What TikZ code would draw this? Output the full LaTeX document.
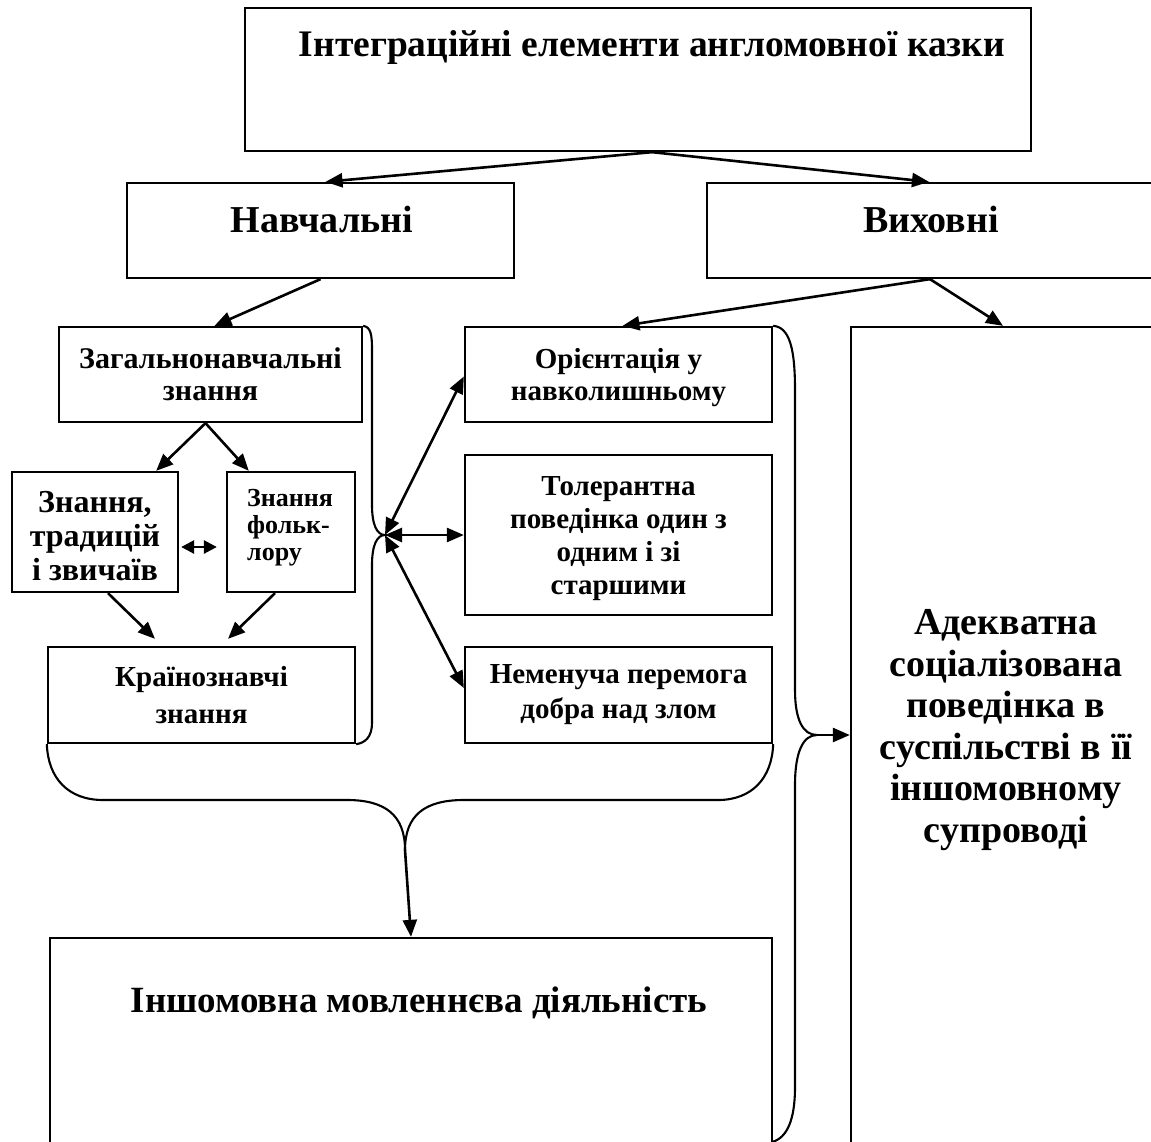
\documentclass[tikz,border=0pt]{standalone}
\usepackage{fontspec}
\setmainfont{Liberation Serif}
\usetikzlibrary{arrows.meta}
\tikzset{
  box/.style={draw, line width=2.3pt, rectangle, inner sep=0pt},
  lbl/.style={font=\bfseries, align=center, inner sep=0pt},
  arr/.style={line width=2.6pt, -{Triangle[length=17pt,width=14pt]}},
  dbl/.style={line width=2.6pt, {Triangle[length=17pt,width=14pt]}-{Triangle[length=17pt,width=14pt]}},
  sdbl/.style={line width=2.6pt, {Triangle[length=13pt,width=13pt]}-{Triangle[length=13pt,width=13pt]}},
  brace/.style={line width=2.1pt}
}
\begin{document}
\begin{tikzpicture}[x=1pt,y=-1pt]
\clip (0,0) rectangle (1151,1142);
\fill[white] (0,0) rectangle (1151,1142);
% boxes
\node[box, minimum width=786pt, minimum height=143pt] (top) at (638,79.5) {};
\node[box, minimum width=387pt, minimum height=95pt] (nav) at (320.5,230.5) {};
\node[box, minimum width=458pt, minimum height=95pt] (vyh) at (936,230.5) {};
\node[box, minimum width=303pt, minimum height=95pt, lbl, font=\fontsize{30}{32}\selectfont\bfseries] (zag) at (210.5,374.5) {Загальнонавчальні\\знання};
\node[box, minimum width=166pt, minimum height=120pt] (trad) at (95,532) {};
\node[box, minimum width=128pt, minimum height=120pt] (folk) at (291,532) {};
\node[box, minimum width=307pt, minimum height=96pt, lbl, font=\fontsize{29}{37}\selectfont\bfseries] (kraina) at (201.5,695) {Країнознавчі\\знання};
\node[box, minimum width=307pt, minimum height=95pt] (or) at (618.5,374.5) {};
\node[box, minimum width=307pt, minimum height=160pt] (tol) at (618.5,535) {};
\node[box, minimum width=307pt, minimum height=96pt, lbl, font=\fontsize{29}{35}\selectfont\bfseries] (nem) at (618.5,695) {Неменуча перемога\\добра над злом};
\node[box, minimum width=722pt, minimum height=232pt] (insh) at (411,1054) {};
\node[box, minimum width=314pt, minimum height=843pt] (big) at (1008,748.5) {};
% texts
\node[lbl, font=\fontsize{37.5}{40}\selectfont\bfseries] (ttop) at (652,47) {Інтеграційні елементи англомовної казки};
\node[lbl, font=\fontsize{38}{40}\selectfont\bfseries] (tnav) at (322,220) {Навчальні};
\node[lbl, font=\fontsize{38}{40}\selectfont\bfseries] (tvyh) at (931,220) {Виховні};
\node[lbl, font=\fontsize{29}{32}\selectfont\bfseries] (tor) at (618.5,378) {Орієнтація у\\навколишньому};
\node[lbl, font=\fontsize{29}{33}\selectfont\bfseries] (ttol) at (618.5,539) {Толерантна\\поведінка один з\\одним і зі\\старшими};
\node[lbl, font=\fontsize{32}{34}\selectfont\bfseries] (ttrad) at (95,536) {Знання,\\традицій\\і звичаїв};
\node[lbl, align=left, anchor=west, font=\fontsize{26}{27}\selectfont\bfseries] (tfolk) at (247,528) {Знання\\фольк-\\лору};
\node[lbl, font=\fontsize{37}{40}\selectfont\bfseries] (tinsh) at (419,1003) {Іншомовна мовленнєва діяльність};
\node[lbl, font=\fontsize{38}{41.5}\selectfont\bfseries] (tbig) at (1006,730) {Адекватна\\соціалізована\\поведінка в\\суспільстві в її\\іншомовному\\супроводі};
% apex coordinates
\coordinate (lapex) at (385,535);
\coordinate (mapex) at (817,735);
\coordinate (bapex) at (405,850);
\coordinate (mend) at (772,1142);
% braces
\draw[brace] (zag.north east) .. controls (371,327) and (372,335) .. (372,350) -- (372,505) .. controls (372,525) and (377,535) .. (lapex) .. controls (377,535) and (372,545) .. (372,565) -- (372,723) .. controls (372,737) and (365,743) .. (kraina.south east);
\draw[brace] (or.north east) .. controls (790,327) and (795,350) .. (795,390) -- (795,690) .. controls (795,720) and (803,735) .. (mapex) .. controls (803,735) and (795,752) .. (795,785) -- (795,1087) .. controls (795,1120) and (787,1138) .. (mend);
\draw[brace] (kraina.south west) .. controls (48,778) and (68,800) .. (103,800) -- (347,800) .. controls (385,800) and (405,815) .. (bapex);
\draw[brace] (nem.south east) .. controls (772,778) and (752,800) .. (718,800) -- (464,800) .. controls (425,800) and (405,815) .. (bapex);
% arrows
\draw[arr] ([xshift=14pt]top.south) -- ([xshift=5pt]nav.north);
\draw[arr] ([xshift=14pt]top.south) -- ([xshift=-7pt]vyh.north);
\draw[arr] (nav.south) -- ([xshift=4pt]zag.north);
\draw[arr] ([xshift=-6pt]vyh.south) -- ([xshift=4pt]or.north);
\draw[arr] ([xshift=-6pt]vyh.south) -- ([xshift=-5pt]big.north);
\draw[arr] ([xshift=-5pt]zag.south) -- ([xshift=-23pt]trad.north east);
\draw[arr] ([xshift=-5pt]zag.south) -- ([xshift=23pt]folk.north west);
\draw[sdbl] ([shift={(2pt,-15pt)}]trad.east) -- ([shift={(-9pt,-15pt)}]folk.west);
\draw[arr] ([xshift=13pt]trad.south) -- ([shift={(-46.5pt,7pt)}]kraina.north);
\draw[arr] ([xshift=-16pt]folk.south) -- ([shift={(26.5pt,7pt)}]kraina.north);
\draw[dbl] (lapex) -- ([yshift=-2pt]or.west);
\draw[dbl] (lapex) -- (tol.west);
\draw[dbl] (lapex) -- ([yshift=7pt]nem.west);
\draw[arr] (mapex) -- (big.west |- mapex);
\draw[arr] (bapex) -- (insh.north);
\end{tikzpicture}
\end{document}
